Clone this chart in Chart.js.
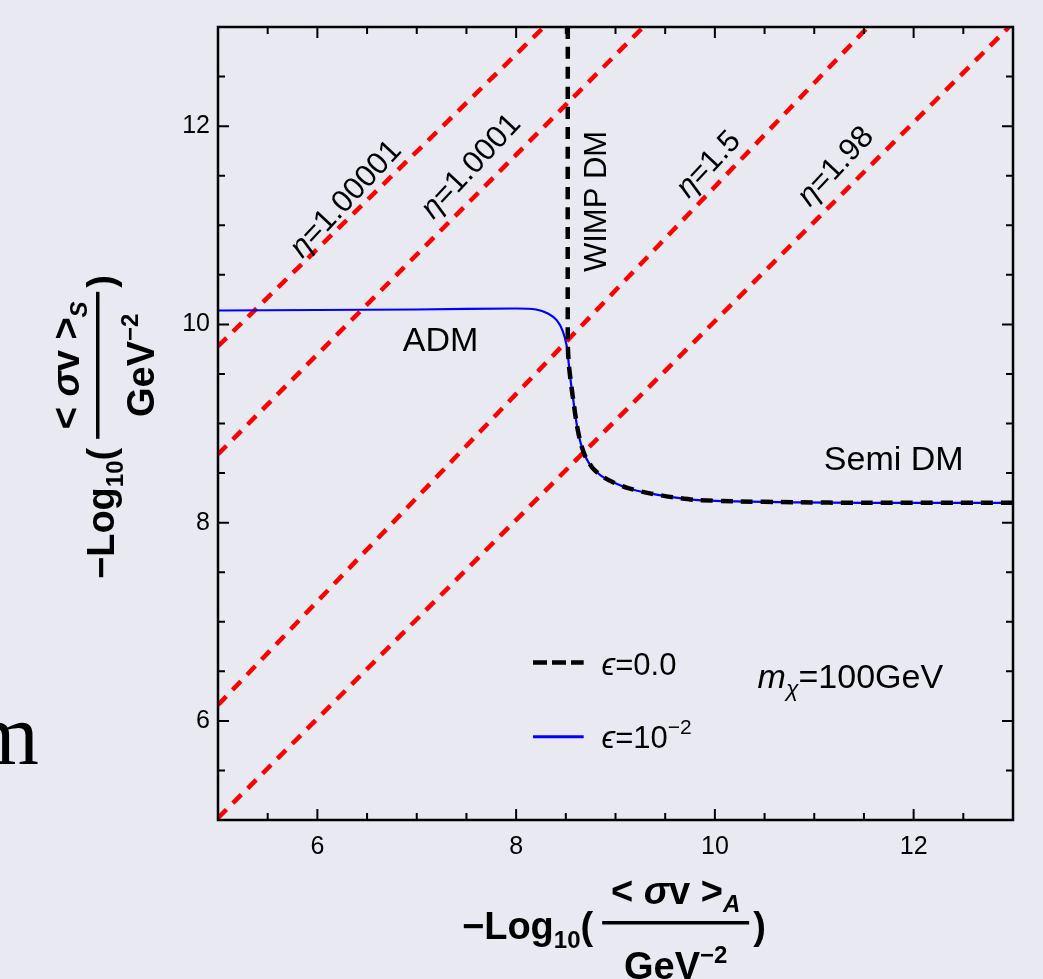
<!DOCTYPE html>
<html>
<head>
<meta charset="utf-8">
<script src="https://cdn.jsdelivr.net/npm/chart.js@4.4.0/dist/chart.umd.min.js"></script>
<style>
  html, body { margin: 0; padding: 0; background: #e9e9f1; }
</style>
</head>
<body>
<canvas id="chart" width="1043" height="979"></canvas>
<script>
// tick labels (both axes run 5..13, minor marks every 0.5)
const xTickLabels = [6, 8, 10, 12]
const yTickLabels = [6, 8, 10, 12]

// eta contours, straight red dashed lines (endpoints)
const etaNames = ['1.00001', '1.0001', '1.5', '1.98']
const etaX = [[5, 8.28], [5, 9.28], [5, 11.54], [5, 12.96]]
const etaY = [[9.78, 13], [8.69, 13], [6.16, 13], [5.02, 13]]

// epsilon = 1e-2 (blue)
const blueX = [5, 6, 7, 8, 8.2, 8.32, 8.41, 8.47, 8.51, 8.53, 8.55, 8.58, 8.61, 8.65, 8.7, 8.77, 8.86, 8.97, 9.12, 9.32, 9.55, 9.8, 10.2, 10.8, 11.5, 13]
const blueY = [10.14, 10.145, 10.15, 10.16, 10.15, 10.11, 10.04, 9.93, 9.78, 9.6, 9.42, 9.2, 8.99, 8.8, 8.66, 8.55, 8.47, 8.41, 8.35, 8.3, 8.26, 8.23, 8.215, 8.205, 8.2, 8.2]

// epsilon = 0 (black dashed)
const blackX = [8.52, 8.52, 8.53, 8.55, 8.58, 8.61, 8.65, 8.7, 8.77, 8.86, 8.97, 9.12, 9.32, 9.55, 9.8, 10.2, 10.8, 11.5, 13]
const blackY = [13, 9.8, 9.6, 9.42, 9.2, 8.99, 8.8, 8.66, 8.55, 8.47, 8.41, 8.35, 8.3, 8.26, 8.23, 8.215, 8.205, 8.2, 8.2]

const FONT = '"Liberation Sans", Arial, sans-serif'
const BG = '#e9e9f1'

const pts = (xs, ys) => xs.map((x, i) => ({ x: x, y: ys[i] }))

// draws a list of [text, font, dy] pieces in a row, returns total width
function rich(ctx, pieces, x, y, align) {
  let w = 0
  pieces.forEach(p => { ctx.font = p[1]; w += ctx.measureText(p[0]).width })
  let cx = align === 'center' ? x - w / 2 : x
  pieces.forEach(p => {
    ctx.font = p[1]
    ctx.fillText(p[0], cx, y + (p[2] || 0))
    cx += ctx.measureText(p[0]).width
  })
  return w
}

// -Log10( <σv>_sub / GeV^-2 ) drawn from the current origin
function axisTitle(ctx, sub) {
  const big = 'bold 38px ' + FONT
  const small = 'bold 24px ' + FONT
  ctx.textAlign = 'left'
  ctx.textBaseline = 'alphabetic'
  let x0 = rich(ctx, [['−Log', big], ['10', small, 9], ['(', big]], 0, 0, 'left') + 9
  const barW = 147
  ctx.fillRect(x0, -18, barW, 3.5)
  rich(ctx, [['< ', big], ['σ', 'italic ' + big], ['v >', big], [sub, 'italic ' + small, 8]], x0 + barW / 2, -35, 'center')
  rich(ctx, [['GeV', big], ['−2', small, -16]], x0 + barW / 2, 40, 'center')
  ctx.font = big
  ctx.fillText(')', x0 + barW + 4, 0)
}

const decor = {
  id: 'decor',
  beforeDraw(chart) {
    const ctx = chart.ctx
    ctx.save()
    ctx.fillStyle = BG
    ctx.fillRect(0, 0, chart.width, chart.height)
    ctx.restore()
  },
  afterDraw(chart) {
    const { ctx, chartArea: a, scales: { x, y } } = chart
    ctx.save()
    ctx.strokeStyle = '#000'
    ctx.fillStyle = '#000'

    // ticks on all four sides, pointing in
    ctx.lineWidth = 2
    for (let v = 5.5; v < 13; v += 0.5) {
      const len = v % 2 === 0 ? 11 : 7
      const px = x.getPixelForValue(v)
      const py = y.getPixelForValue(v)
      ctx.beginPath()
      ctx.moveTo(px, a.bottom); ctx.lineTo(px, a.bottom - len)
      ctx.moveTo(px, a.top); ctx.lineTo(px, a.top + len)
      ctx.moveTo(a.left, py); ctx.lineTo(a.left + len, py)
      ctx.moveTo(a.right, py); ctx.lineTo(a.right - len, py)
      ctx.stroke()
    }
    ctx.lineWidth = 2.5
    ctx.strokeRect(a.left, a.top, a.right - a.left, a.bottom - a.top)

    // eta labels along the lines
    const etaPos = [[6.29, 11.26], [7.55, 11.59], [9.94, 11.61], [11.22, 11.59]]
    ctx.textBaseline = 'middle'
    etaNames.forEach((n, i) => {
      ctx.save()
      ctx.translate(x.getPixelForValue(etaPos[i][0]), y.getPixelForValue(etaPos[i][1]))
      ctx.rotate(-47 * Math.PI / 180)
      rich(ctx, [['η', 'italic 31px ' + FONT], ['=' + n, '31px ' + FONT]], 0, 0, 'center')
      ctx.restore()
    })

    // WIMP DM
    ctx.save()
    ctx.translate(x.getPixelForValue(8.82), y.getPixelForValue(11.24))
    ctx.rotate(-Math.PI / 2)
    ctx.font = '31px ' + FONT
    ctx.textAlign = 'center'
    ctx.fillText('WIMP DM', 0, 0)
    ctx.restore()

    ctx.textAlign = 'center'
    ctx.font = '34px ' + FONT
    ctx.fillText('ADM', x.getPixelForValue(7.24), y.getPixelForValue(9.83))
    ctx.fillText('Semi DM', x.getPixelForValue(11.8), y.getPixelForValue(8.63))

    // m_chi
    ctx.textBaseline = 'alphabetic'
    ctx.textAlign = 'left'
    rich(ctx, [['m', 'italic 34px ' + FONT], ['χ', 'italic 23px ' + FONT, 8], ['=100GeV', '34px ' + FONT]],
      x.getPixelForValue(10.43), y.getPixelForValue(6.33), 'left')

    // legend
    const lx0 = x.getPixelForValue(8.17), lx1 = x.getPixelForValue(8.68), tx = x.getPixelForValue(8.86)
    let ly = y.getPixelForValue(6.59)
    ctx.lineWidth = 4.5
    ctx.setLineDash([14, 5])
    ctx.beginPath(); ctx.moveTo(lx0, ly); ctx.lineTo(lx1, ly); ctx.stroke()
    ctx.setLineDash([])
    rich(ctx, [['ϵ', 'italic 31px ' + FONT], ['=0.0', '31px ' + FONT]], tx, y.getPixelForValue(6.46), 'left')
    ly = y.getPixelForValue(5.84)
    ctx.strokeStyle = '#0000ff'
    ctx.lineWidth = 3
    ctx.beginPath(); ctx.moveTo(lx0, ly); ctx.lineTo(lx1, ly); ctx.stroke()
    rich(ctx, [['ϵ', 'italic 31px ' + FONT], ['=10', '31px ' + FONT], ['−2', '21px ' + FONT, -14]], tx, y.getPixelForValue(5.73), 'left')

    // axis titles
    ctx.save()
    ctx.translate(462, 939)
    axisTitle(ctx, 'A')
    ctx.restore()
    ctx.save()
    ctx.translate(114, 579)
    ctx.rotate(-Math.PI / 2)
    axisTitle(ctx, 'S')
    ctx.restore()

    // stray glyph from the slide behind the figure
    ctx.font = '86px "Liberation Serif", serif'
    ctx.fillText('m', -28, 764)
    ctx.restore()
  }
}

const datasets = [
  { data: pts(blackX, blackY), borderColor: '#000', borderWidth: 4.5, borderDash: [12, 8], tension: 0.2 },
  { data: pts(blueX, blueY), borderColor: '#0000ff', borderWidth: 2.2, tension: 0.2 }
]
etaNames.forEach((n, i) => {
  datasets.push({ data: pts(etaX[i], etaY[i]), borderColor: '#ff0000', borderWidth: 4.5, borderDash: [12, 9] })
})
datasets.forEach(d => { d.showLine = true; d.pointRadius = 0; d.borderCapStyle = 'butt'; d.fill = false })

new Chart(document.getElementById('chart'), {
  type: 'scatter',
  data: { datasets: datasets },
  options: {
    responsive: false,
    animation: false,
    devicePixelRatio: 1,
    layout: { padding: { left: 0, right: 30, top: 27, bottom: 0 } },
    plugins: { legend: { display: false }, tooltip: { enabled: false } },
    scales: {
      x: {
        type: 'linear', min: 5, max: 13,
        grid: { display: false, drawTicks: false },
        border: { display: false },
        afterFit: s => { s.height = 159 },
        afterBuildTicks: s => { s.ticks = xTickLabels.map(v => ({ value: v })) },
        ticks: { padding: 12, color: '#000', font: { family: FONT, size: 25 }, maxRotation: 0 }
      },
      y: {
        type: 'linear', min: 5, max: 13,
        grid: { display: false, drawTicks: false },
        border: { display: false },
        afterFit: s => { s.width = 218 },
        afterBuildTicks: s => { s.ticks = yTickLabels.map(v => ({ value: v })) },
        ticks: { padding: 8, color: '#000', font: { family: FONT, size: 25 } }
      }
    }
  },
  plugins: [decor]
})
</script>
</body>
</html>
